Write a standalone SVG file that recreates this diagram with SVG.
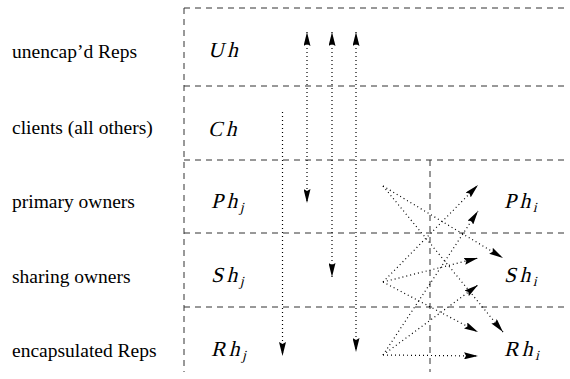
<svg xmlns="http://www.w3.org/2000/svg" width="570" height="379" viewBox="0 0 570 379">
  <style>
    .grid { stroke: #333; stroke-width: 1; stroke-dasharray: 6 5; fill: none; }
    .row { font-family: "Liberation Serif", "Times New Roman", serif; font-size: 19.5px; fill: #000; }
    .sym { font-family: "Liberation Serif", "Times New Roman", serif; font-size: 21.5px; fill: #000; letter-spacing: 3.5px; }
    .sub { font-size: 14px; letter-spacing: 0; }
    .flow { stroke: #000; stroke-width: 1.2; stroke-dasharray: 1 3; fill: none; marker-end: url(#head); }
    .both { marker-start: url(#head); }
  </style>
  <defs>
    <marker id="head" viewBox="0 0 14 7" refX="14" refY="3.5" markerWidth="14" markerHeight="7" markerUnits="userSpaceOnUse" orient="auto-start-reverse">
      <path d="M0,0 L14,3.5 L0,7 L2,3.5 z" fill="#000"/>
    </marker>
  </defs>

  <!-- table grid -->
  <g id="grid">
    <line class="grid" x1="184" y1="8" x2="566" y2="8"/>
    <line class="grid" x1="184" y1="86" x2="566" y2="86"/>
    <line class="grid" x1="184" y1="160" x2="566" y2="160"/>
    <line class="grid" x1="184" y1="233" x2="566" y2="233"/>
    <line class="grid" x1="184" y1="307" x2="566" y2="307"/>
    <line class="grid" x1="184" y1="8" x2="184" y2="372"/>
    <line class="grid" x1="430" y1="160" x2="430" y2="372"/>
  </g>

  <!-- row headings -->
  <g id="row-headings" class="row">
    <text x="12" y="57.5">unencap’d Reps</text>
    <text x="12" y="133.5">clients (all others)</text>
    <text x="12" y="208">primary owners</text>
    <text x="12" y="282.5">sharing owners</text>
    <text x="12" y="356.5">encapsulated Reps</text>
  </g>

  <!-- nodes: math-italic symbols, slanted serif -->
  <g id="Uh"><text class="sym" transform="translate(208,57) skewX(-14)">Uh</text></g>
  <g id="Ch"><text class="sym" transform="translate(208,136) skewX(-14)">Ch</text></g>
  <g id="Phj"><text class="sym" transform="translate(211,208) skewX(-14)">Ph<tspan class="sub" dy="4">j</tspan></text></g>
  <g id="Shj"><text class="sym" transform="translate(211,282) skewX(-14)">Sh<tspan class="sub" dy="4">j</tspan></text></g>
  <g id="Rhj"><text class="sym" transform="translate(211,356) skewX(-14)">Rh<tspan class="sub" dy="4">j</tspan></text></g>
  <g id="Phi"><text class="sym" transform="translate(504,208) skewX(-14)">Ph<tspan class="sub" dy="4">i</tspan></text></g>
  <g id="Shi"><text class="sym" transform="translate(504,282) skewX(-14)">Sh<tspan class="sub" dy="4">i</tspan></text></g>
  <g id="Rhi"><text class="sym" transform="translate(504,356) skewX(-14)">Rh<tspan class="sub" dy="4">i</tspan></text></g>

  <!-- connectors -->
  <g id="connectors">
    <line class="flow" x1="282.5" y1="112" x2="282.5" y2="356"/>
    <line class="flow both" x1="307" y1="32" x2="307" y2="203"/>
    <line class="flow both" x1="332" y1="32" x2="332" y2="277"/>
    <line class="flow both" x1="356" y1="32" x2="356" y2="352"/>

    <line class="flow" x1="383" y1="186" x2="503" y2="258"/>
    <line class="flow" x1="383" y1="186" x2="503" y2="332"/>
    <line class="flow" x1="383" y1="282" x2="478" y2="185"/>
    <line class="flow" x1="383" y1="282" x2="478" y2="258"/>
    <line class="flow" x1="383" y1="282" x2="478" y2="332"/>
    <line class="flow" x1="383" y1="355" x2="478" y2="211"/>
    <line class="flow" x1="383" y1="355" x2="478" y2="285"/>
    <line class="flow" x1="383" y1="355" x2="478" y2="356"/>
  </g>
</svg>
